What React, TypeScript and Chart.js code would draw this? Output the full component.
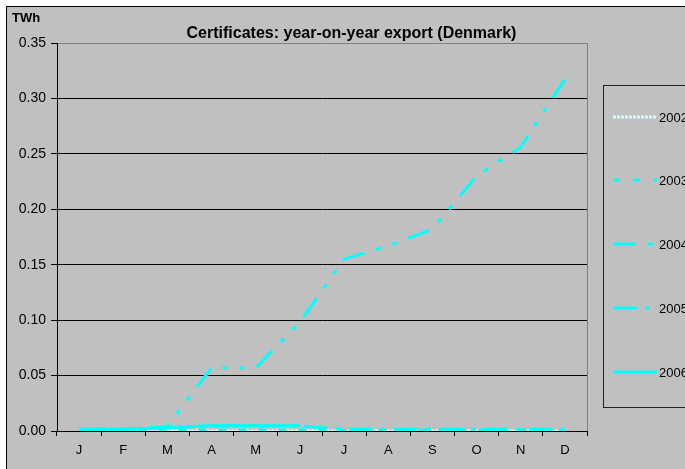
import React, { useEffect, useRef } from "react";
import { Chart, registerables } from "chart.js";

Chart.register(...registerables);

const months = ["J", "F", "M", "A", "M", "J", "J", "A", "S", "O", "N", "D"];
const yearLabels = ["2002", "2003", "2004", "2005", "2006"];
const values2002 = [0, 0, 0, 0, 0, 0, 0, 0, 0, 0, 0, 0];
const values2003 = [0.001, 0.001, 0.001, 0.001, 0.001, 0.001, 0.001, 0.001, 0.001, 0.001, 0.001, 0.001];
const values2004 = [0.001, 0.001, 0.004, 0.057, 0.057, 0.098, 0.155, 0.167, 0.182, 0.23, 0.256, 0.317];
const values2005 = [0.0015, 0.0015, 0.003, 0.0045, 0.0045, 0.0045, 0.0015, 0.0015, 0.0015, 0.0015, 0.0015, 0.0015];
const values2006 = [0.0015, 0.0015, 0.003, 0.005, 0.005, 0.005, null, null, null, null, null, null];
const yTicks = [0, 0.05, 0.1, 0.15, 0.2, 0.25, 0.3, 0.35];
const chartTitle = "Certificates: year-on-year export (Denmark)";
const unitLabel = "TWh";

const W = 690;
const H = 480;
const FONT = "'Liberation Sans', Arial, sans-serif";

const decorPlugin = {
  id: "decor",
  beforeDraw(chart: any) {
    const ctx = chart.ctx;
    ctx.save();
    ctx.fillStyle = "#C0C0C0";
    ctx.fillRect(0, 0, chart.width, chart.height);
    ctx.restore();
  },
  afterDraw(chart: any) {
    const ctx = chart.ctx;
    const a = chart.chartArea;
    ctx.save();
    ctx.strokeStyle = "#808080";
    ctx.lineWidth = 1;
    ctx.beginPath();
    ctx.moveTo(Math.round(a.right) + 0.5, a.top);
    ctx.lineTo(Math.round(a.right) + 0.5, a.bottom);
    ctx.stroke();
    ctx.fillStyle = "#000";
    ctx.font = `bold 16px ${FONT}`;
    ctx.textAlign = "center";
    ctx.textBaseline = "alphabetic";
    ctx.fillText(chartTitle, 344.5, 31);
    ctx.font = `bold 13px ${FONT}`;
    ctx.textAlign = "left";
    ctx.fillText(unitLabel, 5, 15);
    const lx = 596.5;
    const ly = 78.5;
    ctx.strokeStyle = "#222";
    ctx.lineWidth = 1;
    ctx.strokeRect(lx, ly, 200, 322);
    const ys = [110, 173, 237, 301, 365];
    chart.data.datasets.forEach((ds: any, i: number) => {
      const y = ys[i];
      ctx.save();
      ctx.strokeStyle = ds.borderColor;
      ctx.lineWidth = ds.borderWidth;
      ctx.setLineDash(ds.borderDash || []);
      ctx.beginPath();
      ctx.moveTo(606, y);
      ctx.lineTo(650, y);
      ctx.stroke();
      ctx.restore();
      ctx.fillStyle = "#000";
      ctx.font = `13px ${FONT}`;
      ctx.textAlign = "left";
      ctx.textBaseline = "middle";
      ctx.fillText(ds.label, 652, y + 1);
    });
    ctx.restore();
  },
};

export default function App() {
  const ref = useRef<HTMLCanvasElement | null>(null);
  useEffect(() => {
    if (!ref.current) return;
    const mk = (label: string, data: any[], color: string, dash: number[], order: number) => ({
      label,
      data,
      borderColor: color,
      backgroundColor: color,
      borderWidth: 3,
      borderDash: dash,
      pointRadius: 0,
      fill: false,
      tension: 0,
      spanGaps: false,
      order,
    });
    const chart = new Chart(ref.current, {
      type: "line",
      data: {
        labels: months,
        datasets: [
          mk(yearLabels[0], values2002, "#CCFFFF", [3, 1], 4),
          mk(yearLabels[1], values2003, "#00FFFF", [7, 13], 3),
          mk(yearLabels[2], values2004, "#00FFFF", [23, 12, 5, 12, 5, 12], 0),
          mk(yearLabels[3], values2005, "#00FFFF", [24, 8, 5, 8], 2),
          mk(yearLabels[4], values2006, "#00FFFF", [], 1),
        ],
      },
      options: {
        responsive: false,
        animation: false,
        devicePixelRatio: 1,
        layout: { padding: { left: 0, top: 36, right: 110, bottom: 0 } },
        plugins: {
          legend: { display: false },
          title: { display: false },
          tooltip: { enabled: false },
        },
        scales: {
          x: {
            type: "category",
            offset: true,
            grid: {
              offset: true,
              drawOnChartArea: false,
              drawTicks: true,
              tickLength: 5,
              color: "#000",
            },
            border: { color: "#000", width: 1 },
            ticks: {
              color: "#000",
              font: { family: FONT, size: 13 },
              padding: 7,
              maxRotation: 0,
              autoSkip: false,
            },
            afterFit(scale: any) {
              scale.height = 56;
            },
          },
          y: {
            min: 0,
            max: 0.35,
            afterBuildTicks(scale: any) {
              scale.ticks = yTicks.map((v) => ({ value: v }));
            },
            grid: {
              color: (c: any) => (c.tick && c.tick.value === 0.35 ? "#808080" : "#000"),
              tickLength: 6,
              tickColor: "#000",
            },
            border: { color: "#000", width: 1 },
            ticks: {
              color: "#000",
              font: { family: FONT, size: 14 },
              padding: 5,
              callback: (v: any) => Number(v).toFixed(2),
            },
            afterFit(scale: any) {
              scale.width = 50;
            },
          },
        },
      },
      plugins: [decorPlugin],
    } as any);
    return () => chart.destroy();
  }, []);
  return (
    <div
      style={{
        position: "fixed",
        left: 6,
        top: 6,
        width: W,
        height: H,
        borderTop: "1px solid #000",
        borderLeft: "1px solid #000",
        overflow: "hidden",
        background: "#C0C0C0",
      }}
    >
      <canvas ref={ref} width={W} height={H} style={{ display: "block", width: W, height: H }} />
    </div>
  );
}
